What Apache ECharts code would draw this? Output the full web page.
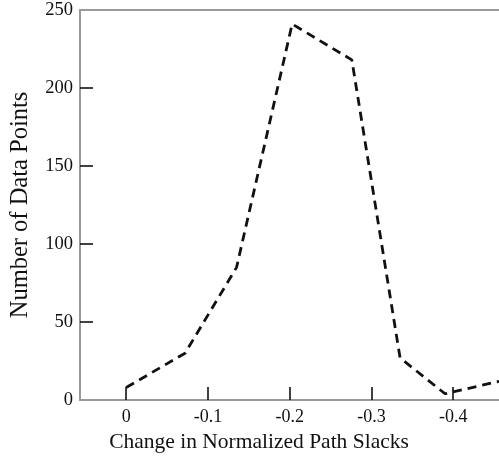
<!DOCTYPE html>
<html>
<head>
<meta charset="utf-8">
<script src="https://cdn.jsdelivr.net/npm/echarts@6/dist/echarts.min.js"></script>
<style>
  html, body { margin: 0; padding: 0; background: #fff; }
  #chart { width: 499px; height: 461px; }
</style>
</head>
<body>
<div id="chart"></div>
<script>
// Change in normalized path slack (x) and how many data points fall there (y)
const slackChange = [0.0, -0.072, -0.135, -0.203, -0.276, -0.335, -0.39, -0.456];
const pointCounts = [8, 30, 85, 241, 218, 27, 4, 12];

const xTickValues = [0, -0.1, -0.2, -0.3, -0.4];
const xTickLabels = ['0', '-0.1', '-0.2', '-0.3', '-0.4'];
const yTickLabels = ['0', '50', '100', '150', '200', '250'];
// interior y ticks only; the ends sit on the frame lines
const yTickMarks = [50, 100, 150, 200];

const xName = 'Change in Normalized Path Slacks';
const yName = 'Number of Data Points';

const serif = '"Liberation Serif", "DejaVu Serif", serif';
const axisGray = '#999999';

const chart = echarts.init(document.getElementById('chart'), null, { renderer: 'canvas' });

const seriesData = slackChange.map((x, i) => [x, pointCounts[i]]);

chart.setOption({
  animation: false,
  backgroundColor: '#ffffff',
  grid: { left: 80, right: 0, top: 10, bottom: 61, containLabel: false },
  xAxis: [
    {
      type: 'value',
      inverse: true,
      min: -0.456,
      max: 0.0565,
      axisLine: { show: true, onZero: false, lineStyle: { color: axisGray, width: 2 } },
      axisTick: {
        show: true,
        inside: true,
        length: 13,
        customValues: xTickValues,
        lineStyle: { color: '#111', width: 1.6 }
      },
      axisLabel: {
        show: true,
        customValues: xTickValues,
        margin: 8,
        fontFamily: serif,
        fontSize: 18,
        color: '#111',
        formatter: function (v) {
          const idx = xTickValues.findIndex(t => Math.abs(t - v) < 1e-9);
          return idx >= 0 ? xTickLabels[idx] : '';
        }
      },
      splitLine: { show: false }
    },
    {
      type: 'value',
      position: 'top',
      inverse: true,
      min: -0.456,
      max: 0.0565,
      axisLine: { show: true, onZero: false, lineStyle: { color: axisGray, width: 2 } },
      axisTick: { show: false },
      axisLabel: { show: false },
      splitLine: { show: false }
    }
  ],
  yAxis: {
    type: 'value',
    min: 0,
    max: 250,
    interval: 50,
    name: yName,
    nameLocation: 'middle',
    nameGap: 47,
    nameTextStyle: { fontFamily: serif, fontSize: 24.5, color: '#111' },
    axisLine: { show: true, onZero: false, lineStyle: { color: axisGray, width: 2 } },
    axisTick: {
      show: true,
      inside: true,
      length: 13,
      customValues: yTickMarks,
      lineStyle: { color: '#111', width: 1.6 }
    },
    axisLabel: {
      margin: 7,
      fontFamily: serif,
      fontSize: 18.5,
      color: '#111',
      formatter: function (v) { return yTickLabels[Math.round(v / 50)]; }
    },
    splitLine: { show: false }
  },
  graphic: [
    {
      type: 'text',
      x: 259,
      y: 442,
      style: {
        text: xName,
        font: '21.5px ' + serif,
        fill: '#111',
        textAlign: 'center',
        textVerticalAlign: 'middle'
      }
    }
  ],
  series: [
    {
      type: 'line',
      data: seriesData,
      showSymbol: false,
      symbol: 'none',
      clip: false,
      lineStyle: { color: '#111', width: 2.8, type: [9, 6] }
    }
  ]
});
</script>
</body>
</html>
